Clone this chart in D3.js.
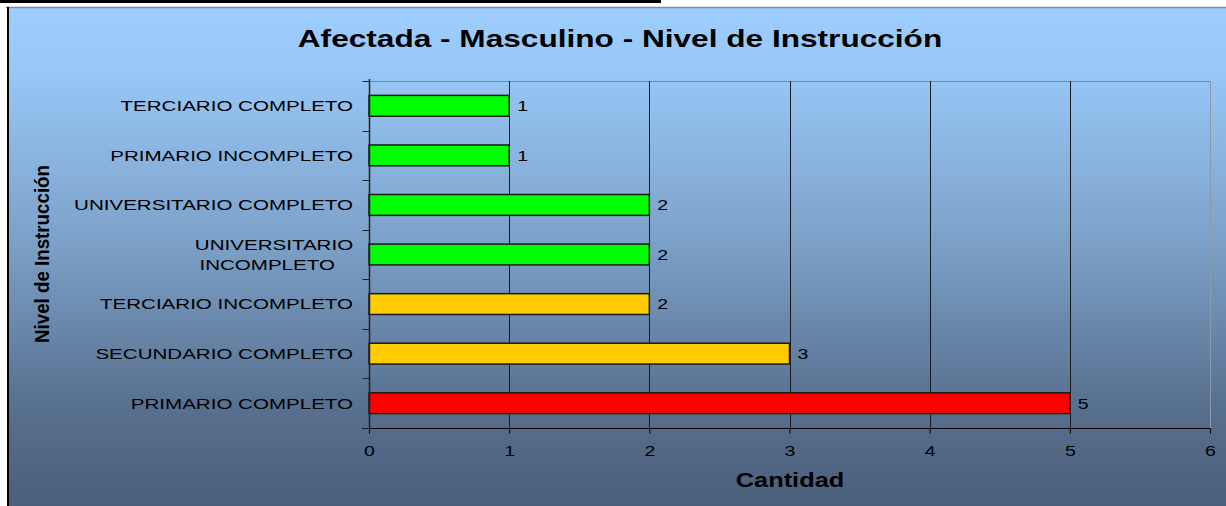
<!DOCTYPE html>
<html><head><meta charset="utf-8">
<script src="https://cdn.jsdelivr.net/npm/d3@7/dist/d3.min.js"></script>
<style>html,body{margin:0;padding:0;background:#fff;}svg{display:block;font-family:"Liberation Sans",Arial,sans-serif;}</style>
</head><body>
<svg id="c" width="1226" height="506"></svg>
<script>
const categories = ["TERCIARIO COMPLETO","PRIMARIO INCOMPLETO","UNIVERSITARIO COMPLETO","UNIVERSITARIO INCOMPLETO","TERCIARIO INCOMPLETO","SECUNDARIO COMPLETO","PRIMARIO COMPLETO"];
const values = [1,1,2,2,2,3,5];
const barColors = ["#00ff00","#00ff00","#00ff00","#00ff00","#ffcc00","#ffcc00","#ff0000"];
const xTicks = [0,1,2,3,4,5,6];
const title = "Afectada - Masculino - Nivel de Instrucción";
const xTitle = "Cantidad";
const yTitle = "Nivel de Instrucción";

const SX = 1.3;   // horizontal stretch of text as in reference
const SXL = 1.37; // stretch for category labels
const svg = d3.select("#c");
const defs = svg.append("defs");
const g = defs.append("linearGradient").attr("id","bg").attr("x1",0).attr("y1",0).attr("x2",0).attr("y2",1);
g.append("stop").attr("offset","0%").attr("stop-color","#9ccdfd");
g.append("stop").attr("offset","12%").attr("stop-color","#98c8f8");
g.append("stop").attr("offset","45%").attr("stop-color","#7ea3cb");
g.append("stop").attr("offset","80%").attr("stop-color","#58708f");
g.append("stop").attr("offset","100%").attr("stop-color","#4a5f7a");

// top black line and frame
svg.append("rect").attr("x",0).attr("y",0).attr("width",661).attr("height",3).attr("fill","#000");
svg.append("rect").attr("x",7).attr("y",8).attr("width",1219).attr("height",498).attr("fill","url(#bg)");
svg.append("line").attr("x1",6).attr("x2",1226).attr("y1",7.5).attr("y2",7.5).attr("stroke","#888").attr("stroke-width",1.5);
svg.append("line").attr("x1",8).attr("x2",8).attr("y1",7).attr("y2",506).attr("stroke","#000").attr("stroke-width",2);

const L=369, R=1210, T=81, B=428;
const x = d3.scaleLinear().domain([0,6]).range([L,R]);
const y = d3.scaleBand().domain(categories).range([T,B]).paddingInner(0.58).paddingOuter(0.29);
const yb = d3.scaleBand().domain(categories).range([T,B]);

// plot border (gray top & right)
svg.append("line").attr("x1",L).attr("x2",R).attr("y1",T+0.5).attr("y2",T+0.5).attr("stroke","#7a8a9a");
svg.append("line").attr("x1",R+0.5).attr("x2",R+0.5).attr("y1",T).attr("y2",B).attr("stroke","#8a9aaa");

// gridlines
svg.append("g").selectAll("line").data(xTicks.filter(d=>d>0&&d<6)).join("line")
  .attr("x1",d=>Math.round(x(d))+0.5).attr("x2",d=>Math.round(x(d))+0.5).attr("y1",T).attr("y2",B)
  .attr("stroke","#1a1a1a").attr("stroke-width",1);

// bars
svg.append("g").selectAll("rect").data(categories).join("rect")
  .attr("x",x(0)).attr("y",(d)=>y(d)).attr("width",(d,i)=>x(values[i])-x(0)).attr("height",y.bandwidth())
  .attr("fill",(d,i)=>barColors[i]).attr("stroke","#1a1a1a").attr("stroke-width",1.5);

// value labels
svg.append("g").selectAll("text").data(categories).join("text")
  .attr("transform",(d,i)=>`translate(${x(values[i])+8},${y(d)+y.bandwidth()/2}) scale(${SX},1)`)
  .attr("dy","0.36em").attr("font-size",15).attr("fill","#000").text((d,i)=>values[i]);

// x axis
const xa = svg.append("g").attr("transform",`translate(0,${B+0.5})`)
  .call(d3.axisBottom(x).tickValues(xTicks).tickSize(5).tickSizeOuter(0).tickPadding(12).tickFormat(d3.format("d")));
xa.select(".domain").remove();
xa.append("line").attr("x1",L-7).attr("x2",R).attr("stroke","#000");
xa.selectAll(".tick line").attr("stroke","#000");
xa.selectAll(".tick text").attr("font-size",15).attr("fill","#000")
  .attr("font-family","Liberation Sans, Arial, sans-serif").attr("transform",`scale(${SX},1)`);

// y axis
const ya = svg.append("g").attr("transform",`translate(${L+0.5},0)`);
ya.append("line").attr("y1",T-2).attr("y2",B).attr("stroke","#222").attr("stroke-width",1.5);
const bounds = categories.map(d=>yb(d)).concat([B]);
ya.selectAll("line.t").data(bounds).join("line").attr("class","t")
  .attr("x1",-7).attr("x2",0).attr("y1",d=>Math.round(d)+0.5).attr("y2",d=>Math.round(d)+0.5).attr("stroke","#222");

// category labels
const lab = svg.append("g");
categories.forEach((c,i)=>{
  const cy = y(c)+y.bandwidth()/2;
  if (c==="UNIVERSITARIO INCOMPLETO") {
    const t = lab.append("g").attr("transform",`translate(${L-95},${cy}) scale(${SXL},1)`);
    t.append("text").attr("font-size",15).attr("fill","#000").attr("text-anchor","middle")
      .attr("y",-10).attr("dy","0.36em").text("UNIVERSITARIO");
    t.append("text").attr("font-size",15).attr("fill","#000").attr("text-anchor","middle")
      .attr("x",-5).attr("y",10).attr("dy","0.36em").text("INCOMPLETO");
  } else {
    lab.append("text").attr("transform",`translate(${L-16},${cy}) scale(${SXL},1)`)
      .attr("dy","0.36em").attr("text-anchor","end")
      .attr("font-size",15).attr("fill","#000").text(c);
  }
});

// titles
svg.append("text").attr("transform",`translate(620,47) scale(1.345,1)`).attr("text-anchor","middle").attr("font-size",23.5)
  .attr("font-weight","bold").attr("fill","#000").text(title);
svg.append("text").attr("transform",`translate(790,487) scale(${SX},1)`).attr("text-anchor","middle").attr("font-size",19.5)
  .attr("font-weight","bold").attr("fill","#000").text(xTitle);
svg.append("text").attr("transform","translate(49,254) rotate(-90)").attr("text-anchor","middle")
  .attr("font-size",20).attr("font-weight","bold").attr("fill","#000")
  .attr("textLength",178).attr("lengthAdjust","spacingAndGlyphs")
  .text(yTitle);
</script>
</body></html>
